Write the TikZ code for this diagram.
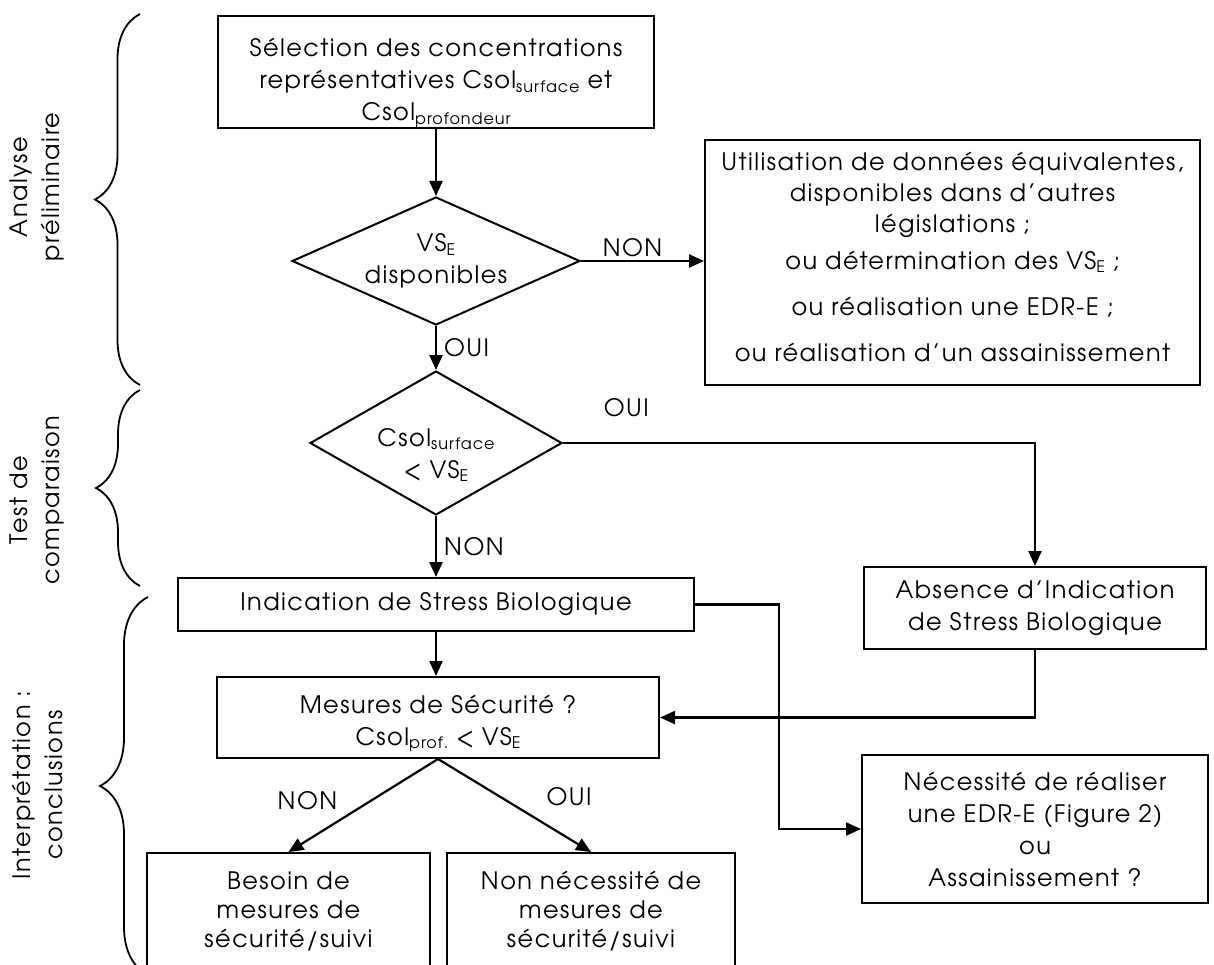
\documentclass[tikz,border=0pt]{standalone}
\usepackage{fontspec}
\setmainfont[LetterSpace=6]{TeX Gyre Adventor}
\usetikzlibrary{shapes.geometric,arrows.meta,decorations.pathreplacing}
\newcommand\lowtxt[1]{\raisebox{-0.15em}{\fontsize{16}{16}\selectfont #1}}
\begin{document}
\begin{tikzpicture}[x=1pt,y=-1pt,
  font=\fontsize{24}{32}\selectfont,
  box/.style={draw,rectangle,inner sep=0pt,align=center,line width=2pt},
  dia/.style={draw,diamond,inner sep=0pt,line width=2pt},
  arr/.style={line width=2.2pt,-{Triangle[length=15pt,width=13pt]}},
  lab/.style={inner sep=3pt},
  brc/.style={line width=1.8pt,decorate,decoration={brace,amplitude=#1}}]
\clip (0,0) rectangle (1214,965);

% left braces and labels
\draw[brc=45pt] (140,385) -- (140,14);
\draw[brc=44pt] (140,586) -- (140,390);
\draw[brc=48pt] (148,975) -- (148,597);
\node[rotate=90,align=center] (l1) at (37,187) {Analyse\\préliminaire};
\node[rotate=90,align=center] (l2) at (37,500) {Test de\\comparaison};
\node[rotate=90,align=center] (l3) at (37,785) {Interprétation :\\conclusions};

% nodes
\node[box,minimum width=436pt,minimum height=112pt,
  label={[align=center,yshift=-11pt]center:{Sélection des concentrations\\représentatives Csol\lowtxt{surface} et\\Csol\lowtxt{profondeur}}}] (top) at (436,72) {};
\node[dia,minimum width=288pt,minimum height=128pt,
  label={[align=center]center:{VS\lowtxt{E}\\disponibles}}] (d1) at (436,261) {};
\node[box,minimum width=495pt,minimum height=245pt,
  label={[align=center,yshift=6pt,font=\fontsize{24}{31}\selectfont]center:{Utilisation de données équivalentes,\\disponibles dans d’autres\\législations ;\\[6pt]
   ou détermination des VS\lowtxt{E} ;\\[15pt]ou réalisation une EDR-E ;\\[15pt]ou réalisation d’un assainissement}}] (alt) at (952.5,262.5) {};
\node[dia,minimum width=252pt,minimum height=144pt,
  label={[align=center,yshift=-12pt]center:{Csol\lowtxt{surface}\\< VS\lowtxt{E}}}] (d2) at (436,443) {};
\node[box,minimum width=516pt,minimum height=53pt] (ind) at (436,604.5) {Indication de Stress Biologique};
\node[box,minimum width=342pt,minimum height=82pt] (abs) at (1035,608) {Absence d’Indication\\de Stress Biologique};
\node[box,minimum width=442pt,minimum height=81pt,
  label={[align=center,yshift=-6pt]center:{Mesures de Sécurité ?\\Csol\lowtxt{prof.} < VS\lowtxt{E}}}] (mes) at (438,717.5) {};
\node[box,minimum width=346pt,minimum height=148pt] (nec) at (1035,829)
  {Nécessité de réaliser\\une EDR-E (Figure 2)\\ou\\Assainissement ?};
\node[box,minimum width=283pt,minimum height=116pt,font=\fontsize{24}{29}\selectfont] (bes) at (288.5,911)
  {Besoin de\\mesures de\\sécurité/suivi};
\node[box,minimum width=288pt,minimum height=116pt,font=\fontsize{24}{29}\selectfont] (non) at (591,911)
  {Non nécessité de\\mesures de\\sécurité/suivi};

% connectors
\draw[arr] (top.south) -- (d1.north);
\draw[arr] (d1.east) -- (d1.east -| alt.west) node[lab,midway,above,xshift=-10pt] (t1) {NON};
\draw[arr] (d1.south) -- (d2.north) node[lab,midway,right,xshift=4pt] (t2) {OUI};
\draw[arr] (d2.east) -| (abs.north) node[lab,pos=0.067,above,yshift=22pt] (t3) {OUI};
\draw[arr] (d2.south) -- (ind.north) node[lab,midway,right,xshift=4pt] (t4) {NON};
\draw[arr] (ind.east) -- ++(84,0) |- (nec.west);
\draw[arr] (ind.south) -- (ind.south |- mes.north);
\draw[arr] (abs.south) |- (mes.east);
\draw[arr] (mes.south) -- (bes.north) node[lab,midway,above left,xshift=-22pt,yshift=-8pt] (t5) {NON};
\draw[arr] (mes.south) -- (non.north) node[lab,midway,above right,xshift=28pt,yshift=-4pt] (t6) {OUI};
\end{tikzpicture}
\end{document}
